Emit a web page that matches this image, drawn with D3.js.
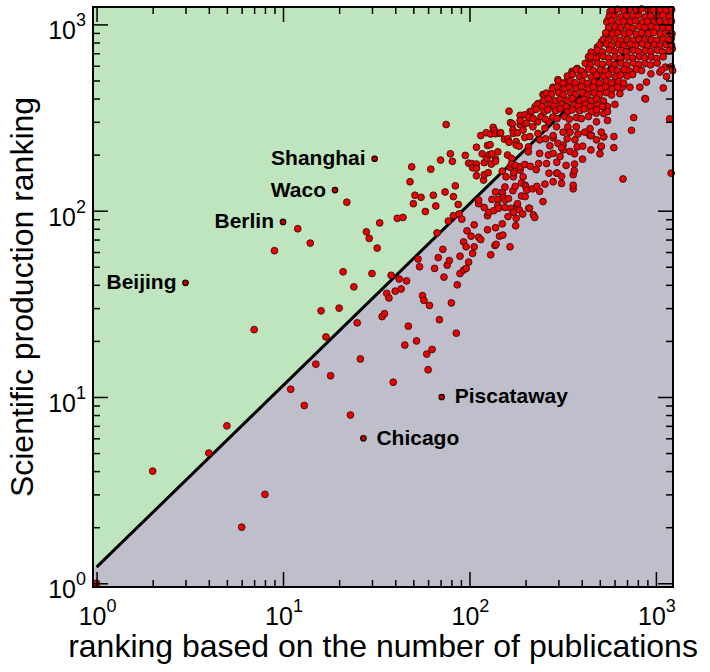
<!DOCTYPE html>
<html>
<head>
<meta charset="utf-8">
<script src="https://cdn.jsdelivr.net/npm/d3@7"></script>
<style>
  html, body { margin: 0; padding: 0; background: #fff; }
  svg text { font-family: "Liberation Sans", Arial, Helvetica, sans-serif; }
</style>
</head>
<body>
<svg id="chart" width="710" height="672"></svg>
<script>
// [rank by publications, rank by scientific production]
const labelledCities = [
    {name: "Beijing", pub: 3, prod: 41, side: "left"},
    {name: "Berlin", pub: 10, prod: 87, side: "left"},
    {name: "Waco", pub: 19, prod: 129, side: "left"},
    {name: "Shanghai", pub: 31, prod: 190, side: "left"},
    {name: "Piscataway", pub: 71, prod: 10, side: "right"},
    {name: "Chicago", pub: 27, prod: 6, side: "right"}
];

const sparseCities = [
    [1,1],[2,4],[4,5],[5,7],[6,2],[8,3],[7,23],[9,61],[11,11],[12,80],[13,9],[14,67],[15,15],[16,29],
    [17,21],[18,13],[20,30],[21,47],[22,111],[23,8],[24,39],[25,25],[26,16],[28,77],[29,71],[30,46],
    [32,63],[33,86],[34,27],[35,28],[36,36],[37,34],[38,45],[39,12],[40,37],[41,91],[42,43],[43,38],
    [44,92],[45,19],[46,42],[47,24],[48,143],[49,172],[50,109],[51,121],[52,20],[53,55],[54,50],
    [55,118],[56,35],[57,33],[58,99],[59,17],[60,14],[61,31],[62,167],[63,18],[64,121],[65,49],
    [66,106],[67,76],[68,56],[69,26],[70,187],[72,62],[73,44],[74,126],[75,290],[76,51],[77,88],
    [78,54],[79,202],[80,32],[81,184],[82,119],[82,94],[84,136],[85,22],[86,40],[87,108],[88,96],
    [89,57],[89,46],[91,90],[93,68],[93,48],[95,198],[96,64],[96,49],[97,78],[99,180],[99,53],
    [102,73],[103,179],[104,59],[104,170],[106,64],[106,84]
];

const middleCities = [
    [109,219],[109,178],[109,154],[109,169],[112,109],[112,72],[112,114],[115,253],[115,70],[117,202],
    [119,146],[120,156],[120,104],[120,181],[123,262],[124,191],[125,79],[125,94],[125,224],[126,160],
    [127,98],[128,200],[129,226],[130,58],[130,258],[131,178],[132,202],[132,115],[134,280],[135,100],
    [136,270],[137,65],[138,189],[138,81],[138,126],[138,259],[138,184],[139,66],[142,207],[142,115],
    [142,107],[143,103],[145,260],[145,73],[147,262],[149,125],[150,163],[150,125],[150,85],[151,74],
    [152,118],[154,242],[155,134],[155,104],[155,114],[157,152],[160,199],[161,93],[161,243],[162,116],
    [163,233],[163,342],[165,171],[165,64],[166,297],[167,103],[168,191],[168,178],[170,292],[171,128],
    [171,271],[172,98],[172,152],[172,260],[173,160],[176,175],[176,135],[177,83],[178,235],[178,91],
    [178,225],[180,107],[181,262],[181,109],[185,222],[185,101],[187,325],[187,165],[187,172],[187,290],
    [189,288],[190,141],[190,120],[193,96],[194,271],[194,152],[198,247],[198,177],[198,294],[199,137],
    [199,119],[201,134],[203,295],[203,129],[207,220],[207,207],[208,103],[210,103],[211,250],[211,340],
    [212,173],[218,131],[219,282],[220,95],[224,92],[228,166],[230,135],[232,300],[233,260],[235,179],
    [238,127],[238,203],[238,240],[248,112],[254,139],[254,277],[256,243],[259,179],[265,199],[265,300],
    [270,223],[281,143],[281,203],[281,246],[293,282],[294,159],[296,159],[298,230],[312,140],[312,153],
    [318,225],[318,212],[306,195],[267,159],[334,243],[337,282],[360,131],[360,156],[365,164],[360,137],
    [368,240],[374,282],[378,220],[404,189],[405,222],[366,202],[366,178],[330,175],[294,182],[346,208],
    [312,218]
];

const fringeCities = [
    [507,220],[510,222],[448,212],[501,202],[595,218],[595,250],[525,249],[480,240],[443,253],[450,254],
    [416,264],[382,258],[346,264],[318,264],[281,253],[443,276],[480,300],[550,305],[525,332],[525,375],
    [550,362],[603,372],[641,425],[660,460],[725,460],[820,460],[890,490],[940,543],[1050,555],[1140,525],
    [1125,590],[1210,592],[1072,570],[1230,565],[1225,740],[1210,840],[1095,456],[873,400],[880,398],
    [760,316],[740,270],[1185,311],[1207,159],[666,148],[448,253],[524,250],[509,264],[550,340],[479,334],
    [248,420],[198,327],[225,362],[187,305],[233,375],[281,460],[318,480],[355,560],[378,580],[435,670],
    [450,710],[485,754],[510,805],[540,870],[567,920],[552,1050],[567,1170],[480,682],[298,505],[334,497],
    [356,546],[443,644],[500,685],[238,377],[251,418]
];

const clusterCities = [
    [583,1190],[624,1205],[676,1185],[722,1200],[785,1192],[838,1210],[910,1188],[972,1200],[1055,1195],[1128,1185],[1215,1200],
    [562,1105],[600,1118],[652,1100],[696,1115],[757,1108],[808,1120],[876,1098],[936,1112],[1018,1105],[1086,1120],[1178,1100],
    [545,1030],[578,1045],[629,1028],[671,1040],[728,1032],[778,1045],[845,1025],[902,1040],[980,1030],[1047,1042],[1135,1028],[1212,1038],
    [558,960],[606,972],[646,958],[703,968],[750,955],[815,970],[870,962],[944,975],[1010,958],[1094,968],[1170,960],
    [538,900],[585,888],[623,902],[678,890],[721,898],[784,885],[838,900],[910,892],[973,905],[1055,888],[1127,898],[1220,890],
    [523,830],[556,820],[607,834],[645,822],[702,828],[749,818],[814,832],[869,824],[945,828],[1008,820],[1095,834],[1170,822],
    [498,772],[543,785],[578,770],[630,780],[670,768],[728,782],[777,772],[845,785],[902,770],[980,778],[1048,766],[1135,780],[1214,772],
    [485,725],[517,712],[563,728],[600,716],[652,724],[695,712],[756,726],[808,714],[877,722],[937,715],[1017,728],[1086,712],[1178,722],
    [450,668],[480,658],[523,672],[557,660],[606,670],[646,658],[702,668],[750,660],[815,672],[870,662],[944,668],[1010,656],[1094,670],
    [418,618],[445,608],[486,620],[517,610],[563,622],[600,608],[652,618],[696,606],[756,620],[808,610],[877,616],[936,606],[1016,620],
    [374,572],[398,562],[435,575],[462,565],[504,570],[537,560],[584,574],[623,564],[677,572],[722,562],[785,575],[838,565],
    [335,528],[356,538],[390,525],[413,535],[451,522],[480,534],[523,526],[557,536],[606,524],[646,534],[702,528],[750,538],
    [300,494],[318,484],[349,496],[369,486],[404,494],[429,482],[468,492],[498,484],[543,496],[578,486],[629,494],[671,484],
    [279,452],[296,462],[324,450],[343,460],[375,454],[398,464],[435,450],[462,460],[504,452],[537,462],[584,450],[623,460],
    [259,428],[275,420],[301,430],[318,418],[349,428],[369,420],[404,430],[429,418],[468,428],[498,420],[543,430],[578,418],
    [250,390],[265,398],[289,388],[306,396],[336,392],[356,400],[390,388],[413,396],[451,390],[480,398],[523,388],
    [232,372],[246,362],[270,370],[284,364],[312,372],[330,362],[362,370],[384,364],[419,372],[445,362],[486,370],[517,362],
    [216,342],[228,350],[251,340],[264,348],[290,344],[306,352],[336,340],[356,348],[390,344],[413,352],[451,340],[480,348],
    [208,318],[220,312],[242,320],[255,310],[280,318],[295,312],[324,320],[343,310],[375,316],[398,312],[435,320]
];

// power-law fit drawn as a straight line in log-log space
const fitLine = [[1, 1.22], [1240, 1266]];

const majorTicks = [1, 10, 100, 1000];
const tickExponents = ["0", "1", "2", "3"];
const xTitle = "ranking based on the number of publications";
const yTitle = "Scientific production ranking";

class RankScatter {
    constructor() {
        this.svg = d3.select("#chart");
        this.x = d3.scaleLog().domain([0.957, 1235]).range([93, 673]);
        this.y = d3.scaleLog().domain([0.955, 1240]).range([587, 7]);

        this.drawBackground();
        this.drawPoints();
        this.drawFrame();
        this.drawAxes();
        this.drawTitles();
    }

    drawBackground() {
        const [x0, x1] = this.x.range();
        const [y0, y1] = this.y.range();

        this.svg.append("defs").append("clipPath")
            .attr("id", "plot-clip")
            .append("rect")
            .attr("x", x0).attr("y", y1)
            .attr("width", x1 - x0).attr("height", y0 - y1);

        const bg = this.svg.append("g").attr("clip-path", "url(#plot-clip)");

        bg.append("rect")
            .attr("x", x0).attr("y", y1)
            .attr("width", x1 - x0).attr("height", y0 - y1)
            .attr("fill", "#bfbfcb");

        const p0 = [this.x(fitLine[0][0]), this.y(fitLine[0][1])];
        const p1 = [this.x(fitLine[1][0]), this.y(fitLine[1][1])];

        // Upper-left triangle above the fit
        bg.append("path")
            .attr("d", d3.line()([[x0, p0[1]], p0, p1, [x0, p1[1]]]) + "Z")
            .attr("fill", "#bee5be");

        bg.append("path")
            .datum(fitLine)
            .attr("d", d3.line().x(d => this.x(d[0])).y(d => this.y(d[1])))
            .attr("fill", "none")
            .attr("stroke", "#000")
            .attr("stroke-width", 3);
    }

    drawPoints() {
        const all = sparseCities.concat(middleCities, fringeCities, clusterCities);

        this.svg.append("g")
            .selectAll("circle")
            .data(all)
            .join("circle")
            .attr("cx", d => this.x(d[0]))
            .attr("cy", d => this.y(d[1]))
            .attr("r", 3.4)
            .attr("fill", "#ec0000")
            .attr("stroke", "#3a1010")
            .attr("stroke-width", 0.9);

        const lab = this.svg.append("g");

        lab.selectAll("circle")
            .data(labelledCities)
            .join("circle")
            .attr("cx", d => this.x(d.pub))
            .attr("cy", d => this.y(d.prod))
            .attr("r", 2.7)
            .attr("fill", "#d00000")
            .attr("stroke", "#1a0000")
            .attr("stroke-width", 1.3);

        lab.selectAll("text")
            .data(labelledCities)
            .join("text")
            .attr("x", d => this.x(d.pub) + (d.side === "left" ? -9 : 13))
            .attr("y", d => this.y(d.prod) + 6.5)
            .attr("text-anchor", d => d.side === "left" ? "end" : "start")
            .attr("font-size", 21)
            .attr("font-weight", "bold")
            .attr("fill", "#000")
            .text(d => d.name);
    }

    drawFrame() {
        const [x0, x1] = this.x.range();
        const [y0, y1] = this.y.range();
        this.svg.append("rect")
            .attr("x", x0).attr("y", y1)
            .attr("width", x1 - x0).attr("height", y0 - y1)
            .attr("fill", "none")
            .attr("stroke", "#000")
            .attr("stroke-width", 2);
    }

    drawAxes() {
        const [x0, x1] = this.x.range();
        const [y0, y1] = this.y.range();
        const minorX = this.x.ticks().filter(v => !majorTicks.includes(v));
        const minorY = this.y.ticks().filter(v => !majorTicks.includes(v));

        // Ticks point inward on all four sides
        const sides = [
            [d3.axisBottom, this.x, minorX, `translate(0,${y0})`],
            [d3.axisTop, this.x, minorX, `translate(0,${y1})`],
            [d3.axisLeft, this.y, minorY, `translate(${x0},0)`],
            [d3.axisRight, this.y, minorY, `translate(${x1},0)`]
        ];

        sides.forEach(([axis, scale, minor, tr]) => {
            [[majorTicks, 15], [minor, 7]].forEach(([vals, len]) => {
                this.svg.append("g")
                    .attr("transform", tr)
                    .call(axis(scale).tickValues(vals).tickSize(-len).tickFormat(""))
                    .call(g => g.select(".domain").remove())
                    .call(g => g.selectAll("line").attr("stroke", "#000").attr("stroke-width", 1.5));
            });
        });

        const xLabels = this.svg.append("g")
            .selectAll("text")
            .data(majorTicks)
            .join("text")
            .attr("x", d => this.x(d) + 1)
            .attr("y", 625)
            .attr("text-anchor", "middle")
            .attr("font-size", 25);
        xLabels.append("tspan").text("10");
        xLabels.append("tspan").attr("dy", -13).attr("font-size", 18).text((d, i) => tickExponents[i]);

        const yLabels = this.svg.append("g")
            .selectAll("text")
            .data(majorTicks)
            .join("text")
            .attr("x", 86)
            .attr("y", d => this.y(d) + 15)
            .attr("text-anchor", "end")
            .attr("font-size", 25);
        yLabels.append("tspan").text("10");
        yLabels.append("tspan").attr("dy", -13).attr("font-size", 18).text((d, i) => tickExponents[i]);
    }

    drawTitles() {
        const [x0, x1] = this.x.range();
        const [y0, y1] = this.y.range();

        this.svg.append("text")
            .attr("x", (x0 + x1) / 2)
            .attr("y", 657)
            .attr("text-anchor", "middle")
            .attr("font-size", 32)
            .text(xTitle);

        this.svg.append("text")
            .attr("transform", `translate(33,${(y0 + y1) / 2}) rotate(-90)`)
            .attr("text-anchor", "middle")
            .attr("font-size", 32)
            .text(yTitle);
    }
}

const chart = new RankScatter();
</script>
</body>
</html>
